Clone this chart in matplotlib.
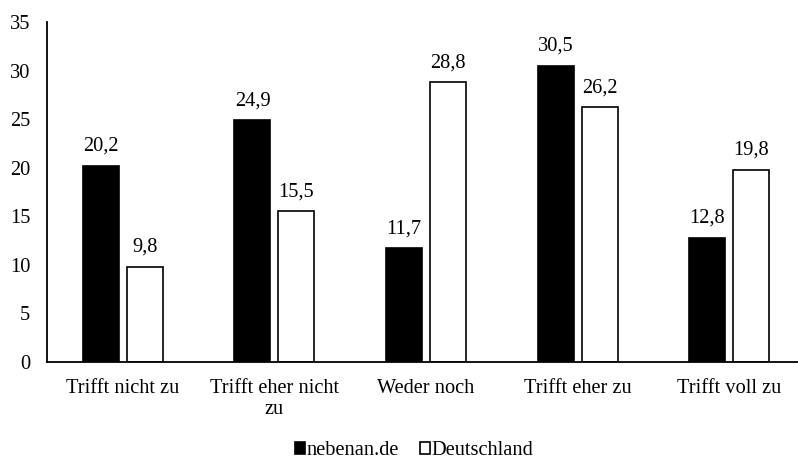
import matplotlib.pyplot as plt
import numpy as np

# Daten
kategorien = ['Trifft nicht zu', 'Trifft eher nicht\nzu', 'Weder noch', 'Trifft eher zu', 'Trifft voll zu']
nebenan = [20.2, 24.9, 11.7, 30.5, 12.8]
deutschland = [9.8, 15.5, 28.8, 26.2, 19.8]

plt.rcParams['font.family'] = ['Liberation Serif', 'DejaVu Serif']
fs = 14.7

fig = plt.figure(figsize=(7.98, 4.62), dpi=100)
ax = fig.add_axes([0.0589, 0.2165, 0.95, 0.736])

x = np.arange(len(kategorien))
w = 0.237
off = 0.145
b1 = ax.bar(x - off, nebenan, w, color='black', edgecolor='black', linewidth=1.2, label='nebenan.de')
b2 = ax.bar(x + off, deutschland, w, color='white', edgecolor='black', linewidth=1.2, label='Deutschland')

for bars, vals in [(b1, nebenan), (b2, deutschland)]:
    for r, v in zip(bars, vals):
        ax.annotate(f'{v:.1f}'.replace('.', ','), (r.get_x() + r.get_width() / 2, v),
                    xytext=(0, 7), textcoords='offset points', ha='center', va='bottom', fontsize=fs)

ax.set_xlim(-0.5, 4.5)
ax.set_ylim(0, 35)
ax.set_yticks(range(0, 36, 5))
ax.set_xticks(x)
ax.set_xticklabels(kategorien, fontsize=fs, linespacing=1.2)
ax.tick_params(axis='y', length=0, labelsize=fs, pad=12)
ax.tick_params(axis='x', length=0, pad=12)
for s in ['top', 'right']:
    ax.spines[s].set_visible(False)
for s in ['left', 'bottom']:
    ax.spines[s].set_linewidth(1.3)

fig.legend(loc='lower center', bbox_to_anchor=(0.519, 0.0), ncol=2, frameon=False, fontsize=fs,
           handlelength=0.5, handleheight=0.5, handletextpad=0.1, columnspacing=1.0,
           borderpad=0.0, borderaxespad=0.1)

fig.savefig('out.png', dpi=100)
